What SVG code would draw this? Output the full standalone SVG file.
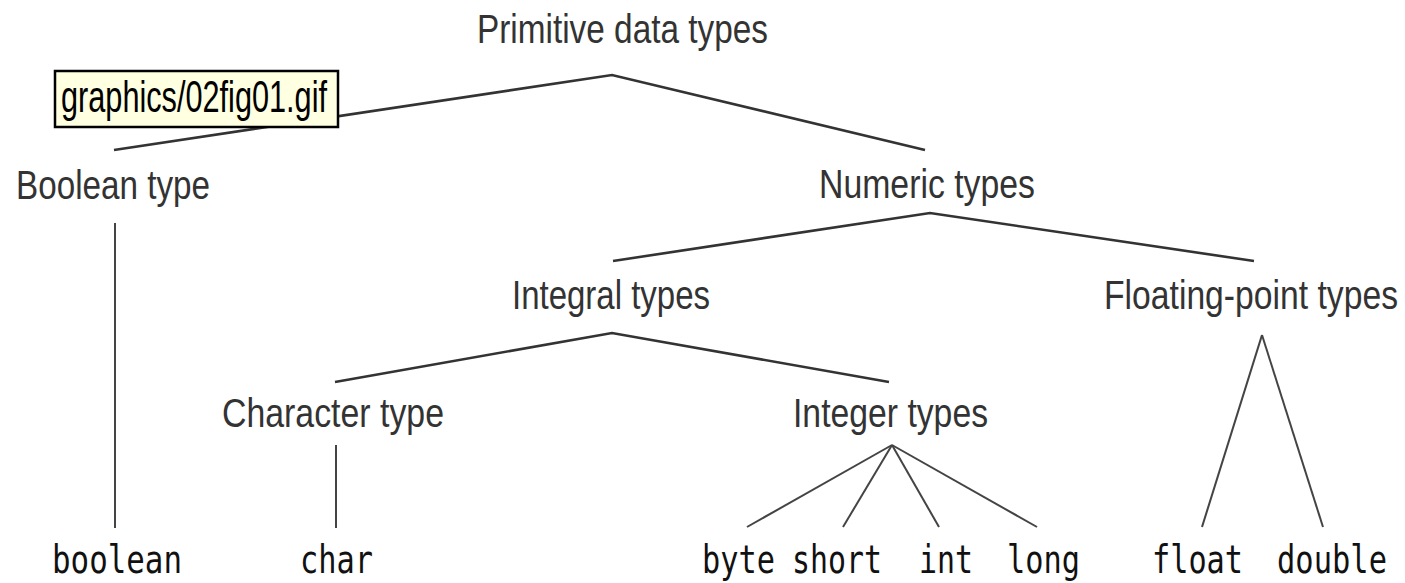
<svg xmlns="http://www.w3.org/2000/svg" width="1405" height="583" viewBox="0 0 1405 583">
<style>
.lbl{font-family:"Liberation Sans",Arial,sans-serif;font-size:41px;fill:#333;}
.code{font-family:"DejaVu Sans Mono","Liberation Mono",monospace;font-size:39px;fill:#111;}
.up{stroke:#333;stroke-width:2.6;fill:none;}
.lo{stroke:#444;stroke-width:2;fill:none;}
.tip{fill:#ffffe1;stroke:#000;stroke-width:2.5;}
.tiptxt{font-family:"Liberation Sans",Arial,sans-serif;font-size:44px;fill:#000;}
</style>
<rect width="1405" height="583" fill="#fff"/>
<g id="connectors">
<polyline class="up" points="114,150 612,75 925,150"/>
<polyline class="up" points="613,261 930,213 1254,261"/>
<polyline class="up" points="335,382 612,333 889,382"/>
<line class="lo" x1="115" y1="223" x2="115" y2="528"/>
<line class="lo" x1="336" y1="445" x2="336" y2="528"/>
<line class="lo" x1="892" y1="445" x2="747" y2="527"/>
<line class="lo" x1="892" y1="445" x2="843" y2="527"/>
<line class="lo" x1="892" y1="445" x2="939" y2="527"/>
<line class="lo" x1="892" y1="445" x2="1037" y2="527"/>
<line class="lo" x1="1262" y1="335" x2="1202" y2="527"/>
<line class="lo" x1="1262" y1="335" x2="1323" y2="527"/>
</g>
<g id="n-primitive"><text class="lbl" x="477" y="43" textLength="291" lengthAdjust="spacingAndGlyphs">Primitive data types</text></g>
<g id="tooltip"><rect class="tip" x="55" y="71" width="283" height="56"/><text class="tiptxt" x="61" y="112" textLength="266" lengthAdjust="spacingAndGlyphs">graphics/02fig01.gif</text></g>
<g id="n-boolean-type"><text class="lbl" x="16" y="199" textLength="194" lengthAdjust="spacingAndGlyphs">Boolean type</text></g>
<g id="n-numeric"><text class="lbl" x="819" y="198" textLength="216" lengthAdjust="spacingAndGlyphs">Numeric types</text></g>
<g id="n-integral"><text class="lbl" x="512" y="309" textLength="198" lengthAdjust="spacingAndGlyphs">Integral types</text></g>
<g id="n-floating"><text class="lbl" x="1104" y="309" textLength="294" lengthAdjust="spacingAndGlyphs">Floating-point types</text></g>
<g id="n-character"><text class="lbl" x="222" y="427" textLength="222" lengthAdjust="spacingAndGlyphs">Character type</text></g>
<g id="n-integer"><text class="lbl" x="793" y="427" textLength="195" lengthAdjust="spacingAndGlyphs">Integer types</text></g>
<g id="n-boolean"><text class="code" x="52" y="573" textLength="130" lengthAdjust="spacingAndGlyphs">boolean</text></g>
<g id="n-char"><text class="code" x="300" y="573" textLength="73" lengthAdjust="spacingAndGlyphs">char</text></g>
<g id="n-byte"><text class="code" x="702" y="573" textLength="73" lengthAdjust="spacingAndGlyphs">byte</text></g>
<g id="n-short"><text class="code" x="792" y="573" textLength="90" lengthAdjust="spacingAndGlyphs">short</text></g>
<g id="n-int"><text class="code" x="919" y="573" textLength="54" lengthAdjust="spacingAndGlyphs">int</text></g>
<g id="n-long"><text class="code" x="1007" y="573" textLength="73" lengthAdjust="spacingAndGlyphs">long</text></g>
<g id="n-float"><text class="code" x="1152" y="573" textLength="91" lengthAdjust="spacingAndGlyphs">float</text></g>
<g id="n-double"><text class="code" x="1277" y="573" textLength="110" lengthAdjust="spacingAndGlyphs">double</text></g>
</svg>
